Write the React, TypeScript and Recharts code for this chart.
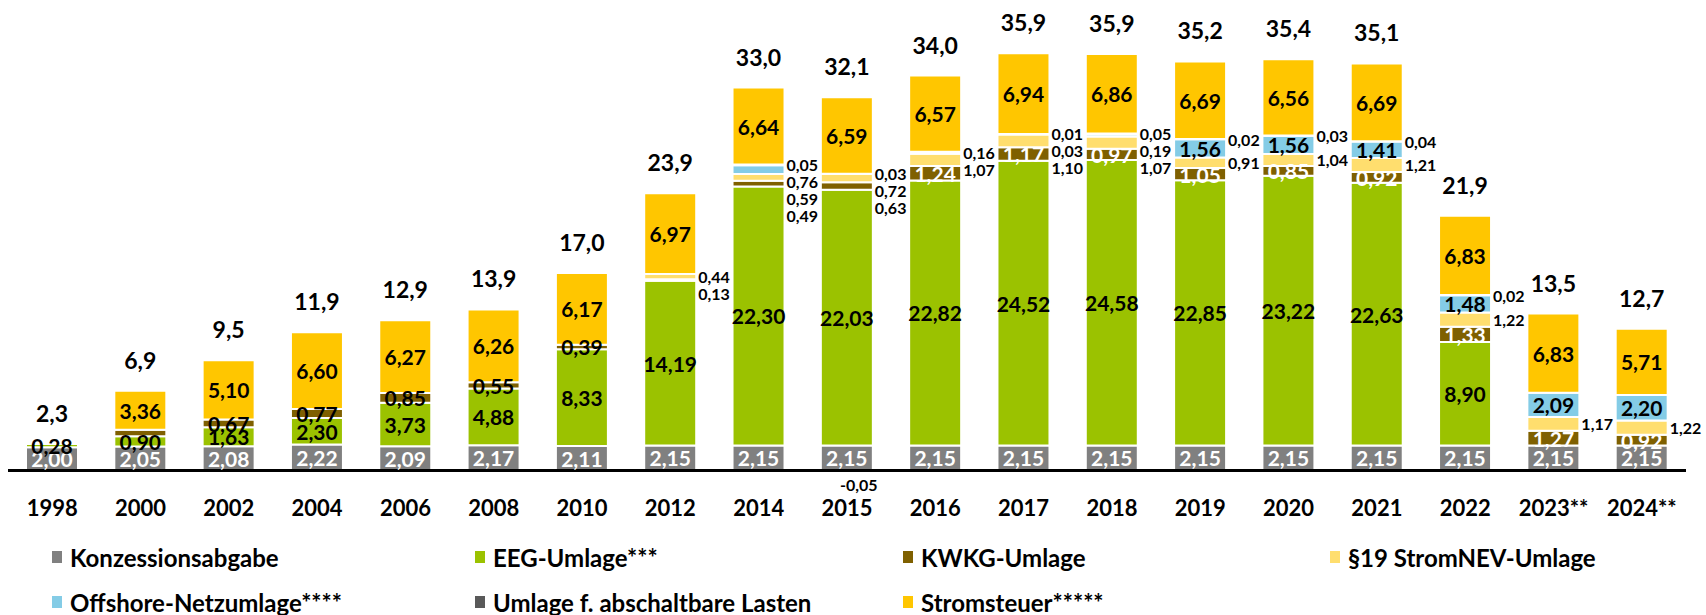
import React from 'react'
import { BarChart, Bar, XAxis, YAxis, ReferenceLine, LabelList } from 'recharts'

document.body.style.margin = '0'

// ─── Data (Mrd. Euro) ────────────────────────────────────────────────────────

const YEARS = ['1998', '2000', '2002', '2004', '2006', '2008', '2010', '2012', '2014', '2015', '2016', '2017', '2018', '2019', '2020', '2021', '2022', '2023**', '2024**']
const KONZESSION = [2.00, 2.05, 2.08, 2.22, 2.09, 2.17, 2.11, 2.15, 2.15, 2.15, 2.15, 2.15, 2.15, 2.15, 2.15, 2.15, 2.15, 2.15, 2.15]
const EEG = [0.28, 0.90, 1.63, 2.30, 3.73, 4.88, 8.33, 14.19, 22.30, 22.03, 22.82, 24.52, 24.58, 22.85, 23.22, 22.63, 8.90, 0, 0]
const KWKG = [0, 0.55, 0.67, 0.77, 0.85, 0.55, 0.39, 0.13, 0.49, 0.63, 1.24, 1.17, 0.97, 1.05, 0.85, 0.92, 1.33, 1.27, 0.92]
const STROMNEV = [0, 0, 0, 0, 0, 0, 0, 0.44, 0.59, 0.72, 1.07, 1.10, 1.07, 0.91, 1.04, 1.21, 1.22, 1.17, 1.22]
const OFFSHORE = [0, 0, 0, 0, 0, 0, 0, 0, 0.76, -0.05, 0.16, 0.03, 0.19, 1.56, 1.56, 1.41, 1.48, 2.09, 2.20]
const ABSCHALT = [0, 0, 0, 0, 0, 0, 0, 0, 0.05, 0.03, 0, 0.01, 0.05, 0.02, 0.03, 0.04, 0.02, 0, 0]
const STROMSTEUER = [0, 3.36, 5.10, 6.60, 6.27, 6.26, 6.17, 6.97, 6.64, 6.59, 6.57, 6.94, 6.86, 6.69, 6.56, 6.69, 6.83, 6.83, 5.71]
const TOTALS = [2.3, 6.9, 9.5, 11.9, 12.9, 13.9, 17.0, 23.9, 33.0, 32.1, 34.0, 35.9, 35.9, 35.2, 35.4, 35.1, 21.9, 13.5, 12.7]

const SERIES = [
  { key: 'konzession', name: 'Konzessionsabgabe', color: '#808080', values: KONZESSION },
  { key: 'eeg', name: 'EEG-Umlage***', color: '#9BC200', values: EEG },
  { key: 'kwkg', name: 'KWKG-Umlage', color: '#7F6000', values: KWKG },
  { key: 'stromnev', name: '§19 StromNEV-Umlage', color: '#FFDE6E', values: STROMNEV },
  { key: 'offshore', name: 'Offshore-Netzumlage****', color: '#84CCE6', values: OFFSHORE },
  { key: 'abschalt', name: 'Umlage f. abschaltbare Lasten', color: '#595959', values: ABSCHALT },
  { key: 'stromsteuer', name: 'Stromsteuer*****', color: '#FFC600', values: STROMSTEUER },
]

const data = YEARS.map((year, i) => {
  const row: Record<string, number | string> = { year, total: TOTALS[i] }
  SERIES.forEach(s => { row[s.key] = s.values[i] })
  return row
})

const FONT = "Lato, 'Open Sans', sans-serif"
const fmt = (v: number, d = 2) => v.toFixed(d).replace('.', ',')

// ─── Label rules ─────────────────────────────────────────────────────────────

type Mode = 'in' | 'out' | 'neg' | null

function labelMode(key: string, i: number, v: number): Mode {
  if (v === 0) return null
  if (v < 0) return 'neg'
  switch (key) {
    case 'kwkg':
      if (i === 1) return null
      if (i < 7) return 'in'
      return v >= 0.8 ? 'in' : 'out'
    case 'stromnev':
    case 'abschalt':
      return 'out'
    case 'offshore':
      return v >= 1 ? 'in' : 'out'
    default:
      return 'in'
  }
}

function labelColor(key: string, i: number) {
  if (key === 'konzession') return '#fff'
  if (key === 'kwkg' && i >= 10) return '#fff'
  return '#000'
}

// ─── Annotations drawn on an invisible overlay bar ───────────────────────────

function Annotations(props: any) {
  const vb = props.viewBox && props.viewBox.height != null ? props.viewBox : props
  const { x, y, width, height } = vb
  const i = YEARS.indexOf(props.value)
  if (i < 0 || !height) return null
  const k = height / KONZESSION[i]
  const zeroY = y + height
  const cx = x + width / 2

  const inside: React.ReactNode[] = []
  const outside: { text: string; cy: number }[] = []
  let neg: string | null = null
  let cum = 0
  SERIES.forEach(s => {
    const v = s.values[i]
    const mode = labelMode(s.key, i, v)
    if (v > 0) {
      const cy = zeroY - (cum + v / 2) * k
      cum += v
      if (mode === 'in') {
        inside.push(
          <text key={s.key} x={cx} y={cy} textAnchor="middle" dominantBaseline="central"
            fontSize={21} fontWeight={700} fill={labelColor(s.key, i)} fontFamily={FONT}>
            {fmt(v)}
          </text>
        )
      } else if (mode === 'out') {
        outside.push({ text: fmt(v), cy })
      }
    } else if (mode === 'neg') {
      neg = fmt(v)
    }
  })

  // outside labels: top-down, pushed apart
  outside.reverse()
  let prev = -Infinity
  const outNodes = outside.map((o, j) => {
    const yy = Math.max(o.cy, prev + 17)
    prev = yy
    return (
      <text key={`o${j}`} x={x + width + 2} y={yy} dominantBaseline="central"
        fontSize={16} fontWeight={700} fill="#000" fontFamily={FONT}>
        {o.text}
      </text>
    )
  })

  const topY = zeroY - cum * k
  return (
    <g>
      {inside}
      {outNodes}
      {neg && (
        <text x={cx + 12} y={zeroY + 14} textAnchor="middle" dominantBaseline="central"
          fontSize={16} fontWeight={700} fill="#000" fontFamily={FONT}>
          {neg}
        </text>
      )}
      <text x={cx} y={topY - 31} textAnchor="middle" dominantBaseline="central"
        fontSize={23} fontWeight={700} fill="#000" fontFamily={FONT}>
        {fmt(TOTALS[i], 1)}
      </text>
    </g>
  )
}

// ─── Legend ──────────────────────────────────────────────────────────────────

const LEGEND_COLS = [52, 475, 903, 1330]

function LegendBlock() {
  return (
    <div style={{ position: 'absolute', left: 0, top: 538, width: 1706, height: 77 }}>
      {SERIES.map((s, j) => (
        <div key={s.key} style={{
          position: 'absolute', left: LEGEND_COLS[j % 4], top: j < 4 ? 6 : 51,
          display: 'flex', alignItems: 'center', height: 26, whiteSpace: 'nowrap',
        }}>
          <span style={{ width: 10, height: 12, background: s.color, display: 'inline-block', marginRight: 8 }} />
          <span style={{ fontSize: 24, fontWeight: 700, fontFamily: FONT, color: '#000' }}>{s.name}</span>
        </div>
      ))}
    </div>
  )
}

// ─── Main ────────────────────────────────────────────────────────────────────

export default function App() {
  return (
    <div style={{ position: 'relative', width: 1706, height: 615, background: '#fff', fontFamily: FONT }}>
      <BarChart
        width={1706}
        height={530}
        data={data}
        stackOffset="sign"
        margin={{ top: 6, right: 20, bottom: 0, left: 8 }}
      >
        <XAxis
          dataKey="year"
          interval={0}
          axisLine={false}
          tickLine={false}
          tickSize={0}
          tickMargin={18}
          height={48}
          tick={{ fontSize: 22, fontWeight: 700, fill: '#000', fontFamily: FONT }}
        />
        <XAxis xAxisId="overlay" dataKey="year" hide />
        <YAxis hide domain={[-1, 40]} />
        {SERIES.map(s => (
          <Bar
            key={s.key}
            dataKey={s.key}
            stackId="a"
            fill={s.color}
            stroke="#fff"
            strokeWidth={2}
            barSize={52}
            isAnimationActive={false}
          />
        ))}
        <ReferenceLine y={0} stroke="#000" strokeWidth={3} />
        <Bar xAxisId="overlay" dataKey="konzession" fill="none" barSize={52} isAnimationActive={false}>
          <LabelList dataKey="year" content={Annotations} />
        </Bar>
      </BarChart>
      <LegendBlock />
    </div>
  )
}
